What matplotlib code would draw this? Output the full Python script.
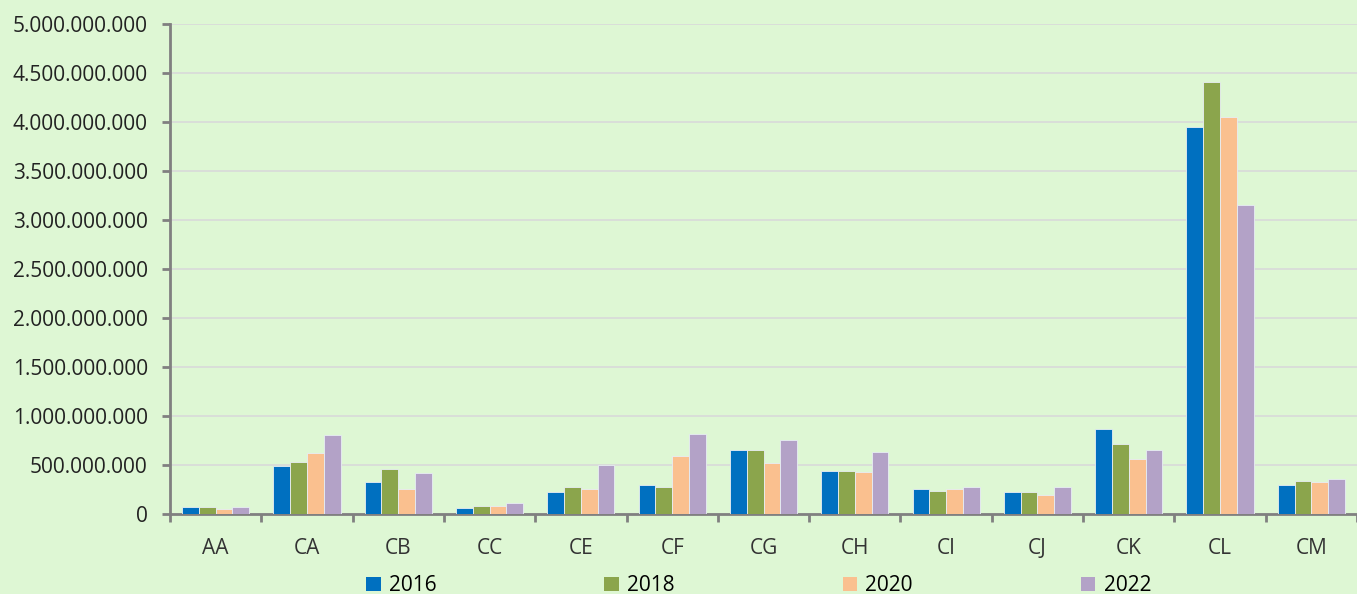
import matplotlib
matplotlib.use("Agg")
import matplotlib.pyplot as plt
import numpy as np
from matplotlib.ticker import FuncFormatter, FixedLocator, MultipleLocator
from matplotlib.patches import Patch

categories = ["AA", "CA", "CB", "CC", "CE", "CF", "CG", "CH", "CI", "CJ", "CK", "CL", "CM"]
years = ["2016", "2018", "2020", "2022"]
v2016 = [68e6, 490e6, 323e6, 58e6, 221e6, 293e6, 653e6, 442e6, 252e6, 221e6, 864e6, 3946e6, 293e6]
v2018 = [68e6, 534e6, 459e6, 85e6, 279e6, 279e6, 653e6, 442e6, 235e6, 221e6, 714e6, 4411e6, 340e6]
v2020 = [54e6, 626e6, 252e6, 85e6, 252e6, 595e6, 517e6, 429e6, 252e6, 190e6, 565e6, 4051e6, 323e6]
v2022 = [68e6, 803e6, 415e6, 115e6, 503e6, 819e6, 758e6, 636e6, 279e6, 279e6, 653e6, 3153e6, 354e6]
series = [v2016, v2018, v2020, v2022]
colors = ["#0070C0", "#8BA54C", "#FAC08F", "#B3A2C7"]

plt.rcParams['font.family'] = ['Open Sans', 'DejaVu Sans']
bg = "#DEF7D4"
fig = plt.figure(figsize=(13.57, 5.94), dpi=100, facecolor=bg)
ax = fig.add_axes([170/1357, 1 - 514/594, (1357-170)/1357, (514-24)/594])
ax.set_facecolor(bg)

x = np.arange(len(categories))
w = 0.184
for i, (vals, c) in enumerate(zip(series, colors)):
    ax.bar(x + (i - 1.5) * w, vals, width=w, color=c, edgecolor="#E8EEF4", linewidth=0.6,
           label=years[i], zorder=3)

ax.set_xlim(-0.5, len(categories) - 0.5)
ax.set_ylim(0, 5e9)
ax.yaxis.set_major_locator(MultipleLocator(5e8))
ax.yaxis.set_major_formatter(FuncFormatter(lambda v, p: f"{int(round(v)):,}".replace(",", ".")))
ax.grid(axis='y', color="#D9D9D9", linewidth=1.2, zorder=0)
ax.set_xticks(x)
ax.set_xticklabels(categories)
ax.xaxis.set_minor_locator(FixedLocator(np.arange(-0.5, len(categories) + 0.5, 1)))
ax.tick_params(axis='x', which='major', length=0, pad=17, labelsize=15, colors="#333333")
ax.tick_params(axis='x', which='minor', length=6, width=2, color="#808080", direction='out')
ax.tick_params(axis='y', length=6, width=2, color="#808080", labelsize=15, labelcolor="#222222", pad=10)
for s in ["top", "right"]:
    ax.spines[s].set_visible(False)
for s in ["left", "bottom"]:
    ax.spines[s].set_color("#808080")
    ax.spines[s].set_linewidth(2)

handles = [Patch(facecolor=c, edgecolor="none") for c in colors]
fig.legend(handles, years, loc='center', bbox_to_anchor=(0.559, 0.014), ncol=4,
           frameon=False, fontsize=15, columnspacing=8.05, handlelength=0.7, handleheight=0.7,
           handletextpad=0.4)

fig.savefig("out.png", dpi=100, facecolor=bg)
